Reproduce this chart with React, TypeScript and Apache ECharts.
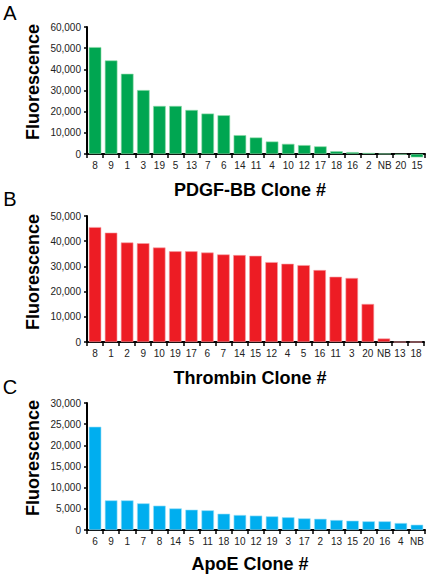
import React, { useEffect, useRef } from "react";
import * as echarts from "echarts";

const pdgfClones = ["8", "9", "1", "3", "19", "5", "13", "7", "6", "14", "11", "4", "10", "12", "17", "18", "16", "2", "NB", "20", "15"];
const pdgfValues = [50500, 44200, 37900, 30200, 22700, 22700, 20800, 19100, 18300, 8900, 7800, 5900, 4800, 4200, 3600, 1300, 900, 500, 100, -300, -1600];

const thrombinClones = ["8", "1", "2", "9", "10", "19", "17", "6", "7", "14", "15", "12", "4", "5", "16", "11", "3", "20", "NB", "13", "18"];
const thrombinValues = [45600, 43400, 39500, 39200, 37500, 36000, 36000, 35500, 34750, 34500, 34200, 31700, 31050, 30500, 28550, 25900, 25400, 15100, 1400, 0, 0];

const apoeClones = ["6", "9", "1", "7", "8", "14", "5", "11", "18", "10", "12", "19", "3", "17", "2", "13", "15", "20", "16", "4", "NB"];
const apoeValues = [24400, 7000, 7000, 6300, 5750, 5100, 4800, 4650, 3850, 3550, 3400, 3230, 3000, 2750, 2650, 2350, 2200, 2050, 2050, 1650, 1250];

const yMaxes = [60000, 50000, 30000];
const yIntervals = [10000, 10000, 5000];
const panelLetters = ["A", "B", "C"];
const xTitles = ["PDGF-BB Clone #", "Thrombin Clone #", "ApoE Clone #"];
const barColors = ["#00a651", "#ed1c24", "#00aeef"];
const barBorders = ["#8fdcaa", "#f7a0a4", "#9fe0f8"];

const FONT = "'Liberation Sans', Arial, Helvetica, sans-serif";

export default function App() {
  const ref = useRef<HTMLDivElement>(null);
  useEffect(() => {
    if (!ref.current) return;
    const chart = echarts.init(ref.current, null, { renderer: "svg" });
    const grids = [
      { left: 87, right: 5, top: 27, height: 127 },
      { left: 87, right: 6, top: 216, height: 126 },
      { left: 87, right: 5, top: 403, height: 127 },
    ];
    const cats = [pdgfClones, thrombinClones, apoeClones];
    const vals = [pdgfValues, thrombinValues, apoeValues];
    const titleY = [82, 272, 458];
    const xTitleY = [190, 378, 564];
    const letterY = [13, 199, 387];
    const fmt = (v: number) => v.toLocaleString("en-US");

    const option: any = {
      animation: false,
      backgroundColor: "#ffffff",
      grid: grids,
      xAxis: cats.map((c, i) => ({
        type: "category",
        gridIndex: i,
        data: c,
        axisLine: { show: true, onZero: true, lineStyle: { color: "#000", width: 2 } },
        axisTick: { show: true, inside: false, length: 4, lineStyle: { color: "#000", width: 1.5 }, alignWithLabel: false },
        axisLabel: { interval: 0, fontFamily: FONT, fontSize: 10, color: "#222", margin: 6 },
        splitLine: { show: false },
      })),
      yAxis: yMaxes.map((m, i) => ({
        type: "value",
        gridIndex: i,
        min: 0,
        max: m,
        interval: yIntervals[i],
        axisLine: { show: true, lineStyle: { color: "#000", width: 2 } },
        axisTick: { show: true, length: 3, lineStyle: { color: "#000", width: 1.5 } },
        axisLabel: { fontFamily: FONT, fontSize: 10, color: "#222", margin: 6, formatter: fmt },
        splitLine: { show: false },
      })),
      series: vals.map((v, i) => ({
        type: "bar",
        xAxisIndex: i,
        yAxisIndex: i,
        data: v,
        clip: false,
        barCategoryGap: "22%",
        itemStyle: { color: barColors[i], borderColor: barBorders[i], borderWidth: 0.6 },
      })),
      graphic: [
        ...titleY.map((y) => ({
          type: "text",
          x: 33,
          y,
          rotation: Math.PI / 2,
          style: { text: "Fluorescence", font: `bold 18px ${FONT}`, fill: "#000", align: "center", verticalAlign: "middle" },
        })),
        ...xTitles.map((t, i) => ({
          type: "text",
          x: 250,
          y: xTitleY[i],
          style: { text: t, font: `bold 18px ${FONT}`, fill: "#000", align: "center", verticalAlign: "middle" },
        })),
        ...panelLetters.map((t, i) => ({
          type: "text",
          x: 10,
          y: letterY[i],
          style: { text: t, font: `20px ${FONT}`, fill: "#000", align: "center", verticalAlign: "middle" },
        })),
      ],
    };
    chart.setOption(option);
    return () => chart.dispose();
  }, []);
  return (
    <div
      ref={ref}
      style={{ position: "absolute", left: 0, top: 0, width: 430, height: 577, background: "#fff" }}
    />
  );
}
